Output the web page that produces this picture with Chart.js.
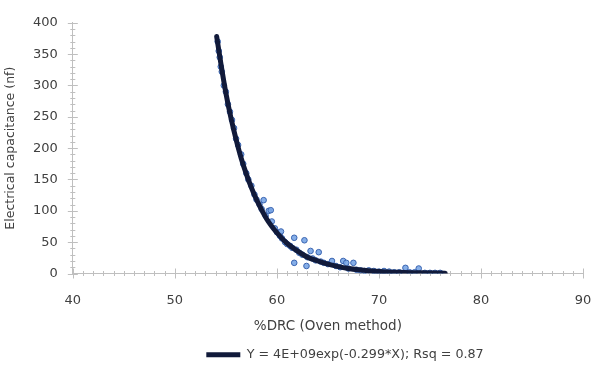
<!DOCTYPE html>
<html>
<head>
<meta charset="utf-8">
<script src="https://cdn.jsdelivr.net/npm/chart.js@4"></script>
<style>
  html, body { margin: 0; padding: 0; background: #fff; }
  #wrap { width: 592px; height: 383px; }
</style>
</head>
<body>
<div id="wrap"><canvas id="drcChart"></canvas></div>
<script>
// measured points: %DRC vs capacitance
var drcX = [54.2, 54.3, 54.4, 54.5, 54.6, 54.8, 55.0, 55.2, 55.4, 55.6, 55.8, 56.0, 56.2, 56.5, 56.7,
            57.0, 57.2, 57.5, 57.8, 58.0, 58.3, 58.5, 58.7, 58.9, 59.2, 59.4, 59.5, 59.8, 60.0, 60.3,
            60.4, 60.5, 60.8, 61.0, 61.3, 61.5, 61.7, 61.7, 61.9, 62.2, 62.5, 62.7, 62.9, 63.0, 63.3,
            63.5, 63.8, 64.1, 64.3, 64.6, 65.0, 65.4, 65.8, 66.2, 66.5, 66.8, 67.0, 67.5, 67.8, 68.2,
            68.6, 69.0, 69.5, 70.0, 70.5, 71.0, 71.5, 72.0, 72.6, 73.0, 73.5, 73.9, 74.5, 75.0, 75.5, 76.0];
var capY = [370, 355, 345, 330, 322, 300, 290, 270, 258, 245, 232, 215, 205, 190, 175,
            160, 150, 140, 126, 118, 110, 103, 117, 92, 100, 101, 83, 72, 66, 60,
            67, 56, 50, 47, 44, 41, 57, 17, 38, 33, 30, 53, 12, 26, 36,
            24, 21, 34, 19, 17, 15, 20, 12, 10, 20, 17, 8, 17, 6, 5,
            4, 5, 4, 3, 4, 3, 2, 2, 9, 2, 2, 8, 1, 1, 1, 1];

// fitted curve
var fitX = [54.1, 54.5, 55, 55.5, 56, 56.5, 57, 57.5, 58, 59, 60, 61, 62, 63, 64, 65, 66, 67, 68, 70, 72, 74, 76.5];
var fitY = [378, 336, 288, 248, 214, 184, 159, 137, 118, 87, 65, 48, 36, 26, 20, 15, 11, 8, 6, 3.3, 1.8, 1, 0.5];

var fitLabel = 'Y = 4E+09exp(-0.299*X); Rsq = 0.87';

function pairs(xs, ys) {
    var out = [];
    for (var i = 0; i < xs.length; i++) out.push({ x: xs[i], y: ys[i] });
    return out;
}

// small minor tick marks on both axes
var minorTicks = {
    id: 'minorTicks',
    beforeDatasetsDraw: function (chart) {
        var c = chart.ctx, xs = chart.scales.x, ys = chart.scales.y;
        var area = chart.chartArea;
        c.save();
        c.strokeStyle = '#bfbfbf';
        c.lineWidth = 1;
        c.beginPath();
        for (var v = 40; v <= 90; v += 1) {
            var px = Math.round(xs.getPixelForValue(v)) + 0.5;
            var len = v % 10 === 0 ? 5 : 2.5;
            c.moveTo(px, area.bottom - len);
            c.lineTo(px, area.bottom + len);
        }
        for (var w = 0; w <= 400; w += 10) {
            var py = Math.round(ys.getPixelForValue(w)) + 0.5;
            var l = w % 50 === 0 ? 5 : 2.5;
            c.moveTo(area.left - l, py);
            c.lineTo(area.left + l, py);
        }
        c.stroke();
        c.restore();
    }
};

// legend sits right of centre in the original
var legendShift = {
    id: 'legendShift',
    afterLayout: function (chart) {
        chart.legend.left += 52;
        chart.legend.right += 52;
    }
};

var ctx = document.getElementById('drcChart');
Chart.defaults.font.family = '"DejaVu Sans", sans-serif';
Chart.defaults.color = '#404040';

new Chart(ctx, {
    type: 'scatter',
    data: {
        datasets: [{
            label: fitLabel,
            type: 'line',
            data: pairs(fitX, fitY),
            borderColor: '#111a3a',
            backgroundColor: '#111a3a',
            borderWidth: 5,
            pointRadius: 0,
            cubicInterpolationMode: 'monotone',
            borderCapStyle: 'round',
            order: 1
        }, {
            label: 'data',
            data: pairs(drcX, capY),
            pointRadius: 2.8,
            pointBorderWidth: 1,
            backgroundColor: 'rgba(120,165,230,0.9)',
            borderColor: '#3a64b0',
            order: 2
        }]
    },
    options: {
        responsive: true,
        maintainAspectRatio: false,
        animation: false,
        layout: { padding: { left: 3, right: 9, top: 6, bottom: 12 } },
        plugins: {
            legend: {
                position: 'bottom',
                labels: {
                    filter: function (item) { return item.datasetIndex === 0; },
                    usePointStyle: true,
                    pointStyle: 'line',
                    pointStyleWidth: 34,
                    boxHeight: 5,
                    padding: 10,
                    font: { size: 12.7 },
                    color: '#404040'
                }
            },
            tooltip: { enabled: false }
        },
        scales: {
            x: {
                type: 'linear',
                min: 40, max: 90,
                grid: { display: false, drawTicks: false },
                border: { color: '#bfbfbf' },
                ticks: { stepSize: 10, padding: 19, font: { size: 13 } },
                title: { display: true, text: '%DRC (Oven method)', font: { size: 13.5 }, padding: { top: -9, bottom: 4 } },
                // let the last label run to the edge like the original
                afterFit: function (scale) { scale.paddingRight = 0; }
            },
            y: {
                min: 0, max: 400,
                grid: { display: false, drawTicks: false },
                border: { color: '#bfbfbf' },
                ticks: { stepSize: 50, padding: 15, font: { size: 13 } },
                title: { display: true, text: 'Electrical capacitance (nf)', font: { size: 12.5 }, padding: { top: 0, bottom: 0 } }
            }
        }
    },
    plugins: [minorTicks, legendShift]
});
</script>
</body>
</html>
